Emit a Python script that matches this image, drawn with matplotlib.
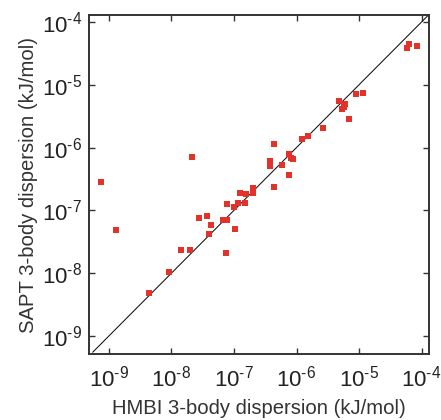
import matplotlib
matplotlib.use("Agg")
import matplotlib.pyplot as plt
import numpy as np

plt.rcParams['font.family'] = ['Liberation Sans', 'DejaVu Sans']
plt.rcParams['mathtext.fontset'] = 'custom'
plt.rcParams['mathtext.rm'] = 'Liberation Sans'
plt.rcParams['mathtext.it'] = 'Liberation Sans'

# log10 values
hmbi_log = [-9.12, -8.88, -7.67, -8.36, -8.04, -7.85, -7.70, -7.56, -7.43, -7.37,
            -7.40, -7.18, -7.11, -7.13, -7.11, -7.00, -6.94, -6.99, -6.90, -6.83,
            -6.81, -6.70, -6.69, -6.42, -6.42, -6.36, -6.36, -6.24, -6.12, -6.12,
            -6.09, -6.05, -5.91, -5.81, -5.57, -5.32, -5.23, -5.27, -5.24, -5.16,
            -5.05, -4.93, -4.23, -4.20, -4.07]
sapt_log = [-6.55, -7.32, -6.15, -8.32, -7.98, -7.63, -7.63, -7.12, -7.09, -7.23,
            -7.38, -7.15, -7.16, -7.68, -6.90, -6.95, -6.88, -7.29, -6.72, -6.88,
            -6.74, -6.65, -6.73, -6.22, -6.29, -5.95, -6.63, -6.28, -6.10, -6.44,
            -6.16, -6.19, -5.86, -5.82, -5.69, -5.26, -5.31, -5.39, -5.36, -5.55,
            -5.15, -5.13, -4.41, -4.35, -4.38]
exponents = [-9, -8, -7, -6, -5, -4]

hmbi = 10.0 ** np.array(hmbi_log)
sapt = 10.0 ** np.array(sapt_log)

fig = plt.figure(figsize=(4.41, 4.20), dpi=100)
ax = fig.add_axes([0.2018, 0.157, 0.771, 0.807])

lo, hi = 10 ** -9.32, 10 ** -3.88
ax.plot([10 ** -9.26, hi], [10 ** -9.26, hi], color='black', lw=0.7)
ax.plot(hmbi, sapt, 's', color='#e2322a', markersize=4.4, markeredgewidth=0)

ax.set_xscale('log')
ax.set_yscale('log')
ax.set_xlim(lo, hi)
ax.set_ylim(10 ** -9.29, 10 ** -3.89)
ticks = [10.0 ** e for e in exponents]
labels = ['$10^{\\text{%d}}$' % e for e in exponents]
ax.set_xticks(ticks)
ax.set_xticklabels(labels)
ax.set_yticks(ticks)
ax.set_yticklabels(labels)
ax.minorticks_off()
ax.tick_params(direction='in', length=4, width=1, top=True, right=True,
               labelsize=16, color='#333333', labelcolor='#222222', pad=5)
ax.tick_params(axis='x', pad=8)
for s in ax.spines.values():
    s.set_color('#333333')
    s.set_linewidth(1.4)

ax.set_xlabel('HMBI 3-body dispersion (kJ/mol)', fontsize=14.6, color='#333333', labelpad=6)
ax.set_ylabel('SAPT 3-body dispersion (kJ/mol)', fontsize=14.6, color='#333333', labelpad=3)

fig.savefig('out.png', dpi=100)
